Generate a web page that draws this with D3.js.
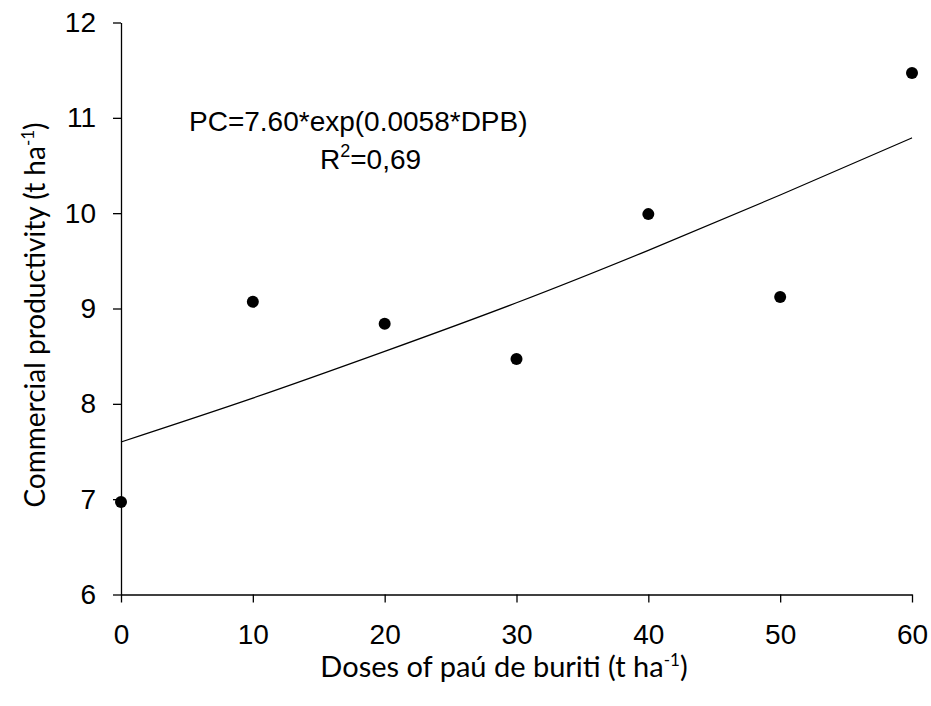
<!DOCTYPE html>
<html><head><meta charset="utf-8">
<script src="https://cdn.jsdelivr.net/npm/d3@7"></script>
<style>body{margin:0;background:#fff}svg{display:block}</style>
</head><body>
<script>
const doses = [0, 10, 20, 30, 40, 50, 60];
const productivity = [6.97, 9.07, 8.84, 8.47, 9.99, 9.12, 11.47];
const fitDoses = [0, 10, 20, 30, 40, 50, 60];
const fitValues = [7.60, 8.06, 8.55, 9.06, 9.61, 10.19, 10.79];
const xTicks = [0, 10, 20, 30, 40, 50, 60];
const yTicks = [6, 7, 8, 9, 10, 11, 12];

const W = 931, H = 706;
const svg = d3.select("body").append("svg").attr("width", W).attr("height", H);
const x = d3.scaleLinear().domain([0, 60]).range([121, 912]);
const y = d3.scaleLinear().domain([6, 12]).range([594.5, 22.5]);

const tickFont = "Liberation Sans, Arial, sans-serif";
const gx = svg.append("g").attr("transform", `translate(0,${y(6)})`)
  .call(d3.axisBottom(x).tickValues(xTicks).tickFormat(d3.format("d"))
    .tickSize(8).tickPadding(22).tickSizeOuter(0));
const gy = svg.append("g").attr("transform", `translate(${x(0)},0)`)
  .call(d3.axisLeft(y).tickValues(yTicks).tickFormat(d3.format("d"))
    .tickSize(8).tickPadding(17).tickSizeOuter(0));
[gx, gy].forEach(g => {
  g.selectAll("path,line").attr("stroke", "#000").attr("stroke-width", 1.3);
  g.selectAll("text").attr("font-family", tickFont).attr("font-size", 28).attr("fill", "#000");
});

const line = d3.line().x((d, i) => x(fitDoses[i])).y(d => y(d)).curve(d3.curveNatural);
svg.append("path").datum(fitValues).attr("d", line).attr("fill", "none")
  .attr("stroke", "#000").attr("stroke-width", 1.2);

svg.append("g").selectAll("circle").data(productivity).join("circle")
  .attr("cx", (d, i) => x(doses[i])).attr("cy", d => y(d)).attr("r", 6).attr("fill", "#000");

svg.append("text").attr("x", 189).attr("y", 131).attr("font-family", tickFont)
  .attr("font-size", 28).attr("fill", "#000").text("PC=7.60*exp(0.0058*DPB)");
const r2 = svg.append("text").attr("x", 320).attr("y", 169).attr("font-family", tickFont)
  .attr("font-size", 28).attr("fill", "#000");
r2.append("tspan").text("R");
r2.append("tspan").attr("font-size", 18).attr("dy", -12).text("2");
r2.append("tspan").attr("dy", 12).text("=0,69");

const titleFont = "Lato, 'Open Sans', sans-serif";
const xt = svg.append("text").attr("x", 504).attr("y", 677).attr("text-anchor", "middle")
  .attr("font-family", titleFont).attr("font-size", 29).attr("fill", "#000");
xt.append("tspan").text("Doses of paú de buriti (t ha");
xt.append("tspan").attr("font-size", 17).attr("dy", -11).text("-1");
xt.append("tspan").attr("dy", 11).text(")");

const yt = svg.append("text").attr("transform", "translate(45,315) rotate(-90)")
  .attr("text-anchor", "middle")
  .attr("font-family", titleFont).attr("font-size", 28).attr("fill", "#000");
yt.append("tspan").text("Commercial productivity (t ha");
yt.append("tspan").attr("font-size", 17).attr("dy", -11).text("-1");
yt.append("tspan").attr("dy", 11).text(")");
</script>
</body></html>
